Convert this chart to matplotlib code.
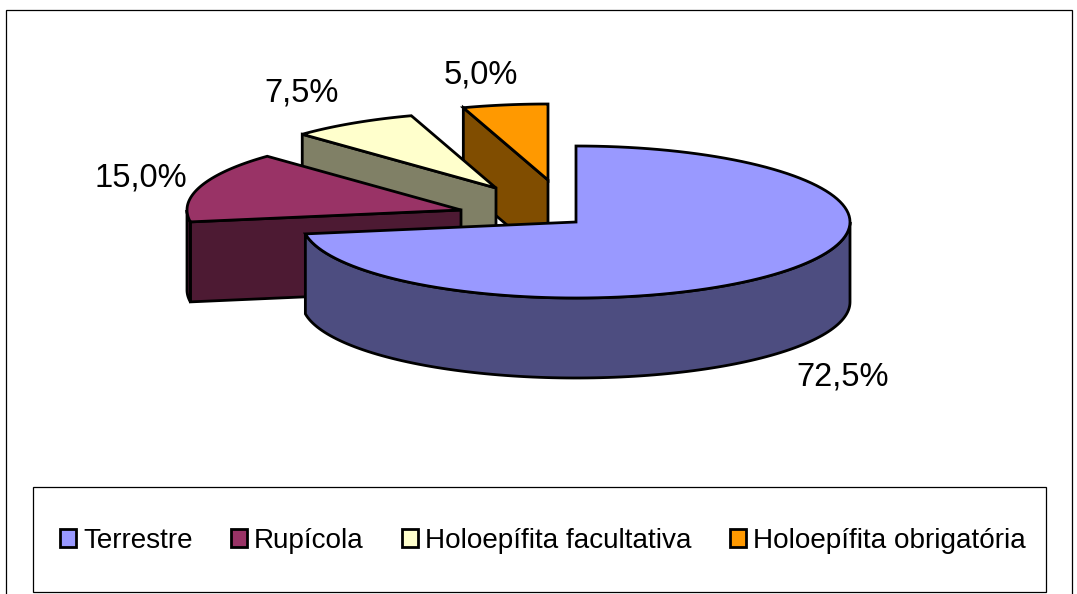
import numpy as np
import matplotlib
matplotlib.use("Agg")
import matplotlib.pyplot as plt
from matplotlib.patches import Polygon, Rectangle, Patch

categories = ["Terrestre", "Rupícola", "Holoepífita facultativa", "Holoepífita obrigatória"]
values = [72.5, 15.0, 7.5, 5.0]

top_colors = ["#9999FF", "#993366", "#FFFFCC", "#FF9900"]
wall_colors = ["#4D4D80", "#4D1A33", "#808066", "#804D00"]

# layout, in pixels of the figure
centers = [(576, 222), (461, 210), (496, 188), (548, 180)]
label_pos = [(843, 377), (141, 178), (302, 93), (481, 75)]
RX, RY, DEPTH = 274, 76, 80
LW = 2.0

plt.rcParams['font.family'] = ['Liberation Sans', 'DejaVu Sans']
fig = plt.figure(figsize=(10.77, 5.94), dpi=100)
ax = fig.add_axes([0, 0, 1, 1])
ax.set_xlim(0, 1077)
ax.set_ylim(594, 0)
ax.axis("off")

ax.add_patch(Rectangle((6, 10), 1066, 600, fc="white", ec="black", lw=0.9, zorder=0))
ax.add_patch(Rectangle((33, 487), 1013, 105, fc="white", ec="black", lw=0.9, zorder=1))


def pt(c, a):
    return c[0] + RX * np.sin(a), c[1] - RY * np.cos(a)


def arc(c, a0, a1, n=120):
    t = np.linspace(a0, a1, n)
    return np.column_stack(pt(c, t))


def poly(xy, fc, z):
    ax.add_patch(Polygon(xy, closed=True, fc=fc, ec="black", lw=LW, joinstyle="miter", zorder=z))


edges = np.radians(np.cumsum([0] + values) / sum(values) * 360)
down = np.array([0, DEPTH])

# back slices first, the large front slice last
for i in [3, 2, 1, 0]:
    c = centers[i]
    a0, a1 = edges[i], edges[i + 1]
    z = 10 + (3 - i) * 3
    if i > 0:
        # radial wall along the slice's leading edge faces the viewer
        p0 = np.array(c, float)
        p1 = np.array(pt(c, a0))
        poly([p0, p1, p1 + down, p0 + down], wall_colors[i], z)
    # outer rim: only the front half of the ellipse shows
    r0, r1 = max(a0, np.pi / 2), min(a1, 3 * np.pi / 2)
    if r1 > r0:
        rim = arc(c, r0, r1)
        poly(np.vstack([rim, (rim + down)[::-1]]), wall_colors[i], z + 1)
    poly(np.vstack([[c], arc(c, a0, a1)]), top_colors[i], z + 2)

for v, (x, y) in zip(values, label_pos):
    ax.text(x, y, f"{v:.1f}%".replace(".", ","), fontsize=23.5, ha="center", va="center",
            color="black", zorder=30)

handles = [Patch(fc=f, ec="black", lw=LW) for f in top_colors]
ax.legend(handles, categories, ncol=4, frameon=False, fontsize=20.1,
          loc="center", bbox_to_anchor=(543 / 1077, 1 - 541 / 594),
          bbox_transform=fig.transFigure,
          handlelength=0.58, handleheight=0.58, handletextpad=0.24,
          columnspacing=1.38, borderpad=0, borderaxespad=0).set_zorder(30)

fig.savefig("out.png", dpi=100)
